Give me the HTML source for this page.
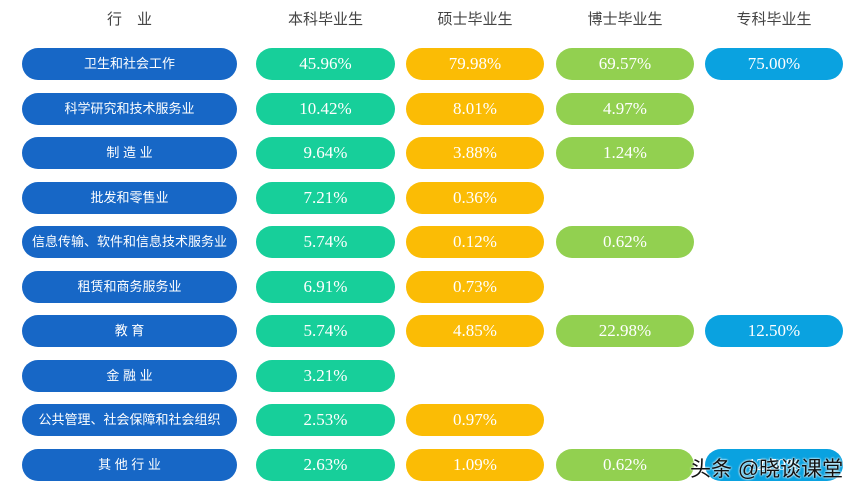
<!DOCTYPE html>
<html><head><meta charset="utf-8"><style>
body{margin:0;width:864px;height:501px;background:#fff;position:relative;overflow:hidden;font-family:"Liberation Serif","Noto Serif CJK SC",serif}
.h{position:absolute;top:8px;height:24px;line-height:24px;text-align:center;font-family:"Liberation Sans","Noto Sans CJK SC",sans-serif;font-size:15px;color:#444}
.p{position:absolute;height:32px;line-height:32px;text-align:center;border-radius:16px;color:#fff;font-size:17px}
.ind{font-family:"Liberation Sans","Noto Sans CJK SC",sans-serif;font-size:13px}
.wm{position:absolute;left:690px;top:453px;font-family:"Liberation Sans","Noto Sans CJK SC",sans-serif;font-size:21px;color:#111;text-shadow:0 0 2px #fff,0 0 2px #fff}
</style></head><body>
<div id="c"></div>
<div class="wm">头条 @晓谈课堂</div>
<script>
const headers=["行　业","本科毕业生","硕士毕业生","博士毕业生","专科毕业生"];
const industries=["卫生和社会工作","科学研究和技术服务业","制 造 业","批发和零售业","信息传输、软件和信息技术服务业","租赁和商务服务业","教 育","金 融 业","公共管理、社会保障和社会组织","其 他 行 业"];
const bachelor=[45.96,10.42,9.64,7.21,5.74,6.91,5.74,3.21,2.53,2.63];
const master=[79.98,8.01,3.88,0.36,0.12,0.73,4.85,null,0.97,1.09];
const doctor=[69.57,4.97,1.24,null,0.62,null,22.98,null,null,0.62];
const junior=[75.00,null,null,null,null,null,12.50,null,null,12.50];
const c=document.getElementById('c');
const cols=[{x:22,w:215,col:'#1767c6'},{x:256,w:139,col:'#17cf9a'},{x:406,w:138,col:'#fbbc05'},{x:556,w:138,col:'#92d050'},{x:705,w:138,col:'#0aa2e0'}];
const names=['industry','bachelor','master','doctor','junior'];
headers.forEach((t,i)=>{const d=document.createElement('div');d.className='h';d.style.left=cols[i].x+'px';d.style.width=cols[i].w+'px';d.textContent=t;


c.appendChild(d);});
const series=[bachelor,master,doctor,junior];
industries.forEach((n,r)=>{const y=48+r*44.56;
const d=document.createElement('div');d.className='p ind';d.style.left=cols[0].x+'px';d.style.width=cols[0].w+'px';d.style.top=y+'px';d.style.background=cols[0].col;d.textContent=n;


c.appendChild(d);
series.forEach((s,k)=>{const v=s[r];if(v==null)return;const e=document.createElement('div');e.className='p';const cc=cols[k+1];e.style.left=cc.x+'px';e.style.width=cc.w+'px';e.style.top=y+'px';e.style.background=cc.col;e.textContent=v.toFixed(2)+'%';


c.appendChild(e);});});
</script>
</body></html>
